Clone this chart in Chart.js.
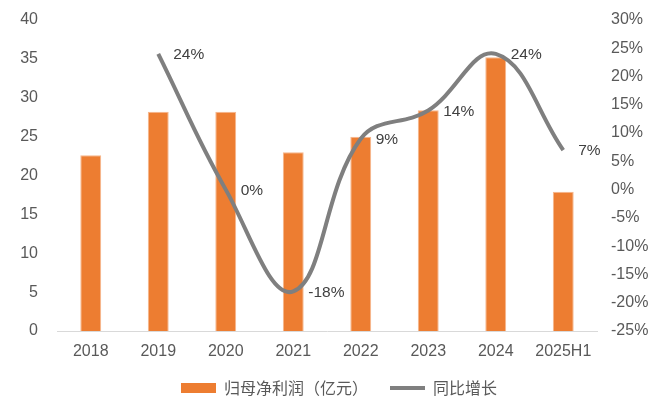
<!DOCTYPE html>
<html>
<head>
<meta charset="utf-8">
<script src="https://cdn.jsdelivr.net/npm/chart.js@4.4.1/dist/chart.umd.min.js"></script>
<style>
  html, body { margin: 0; padding: 0; background: #fff; }
  #wrap { width: 651px; height: 398px; position: relative; }
</style>
</head>
<body>
<div id="wrap"><canvas id="profitChart"></canvas></div>
<script>
// 年份与数据
const years = ['2018', '2019', '2020', '2021', '2022', '2023', '2024', '2025H1'];
const netProfit = [22.6, 28.2, 28.2, 23.0, 25.0, 28.4, 35.2, 17.9];   // 亿元
const yoyGrowth = [null, 24, 0, -18, 9, 14, 24, 7];                   // %
const leftTicks = [0, 40, 5];
const rightTicks = [-25, 30, 5];

const colors = {
  bar: '#ed7d31',
  barEdge: '#f6b78d',
  line: '#7f7f7f',
  tick: '#595959',
  label: '#404040',
  axis: '#d9d9d9',
};

const latin = '"Liberation Sans", Arial, sans-serif';
const cjk = '"Noto Sans CJK SC", "Liberation Sans", sans-serif';

// 折线数据标签：画在点的右侧
const lineLabels = {
  id: 'lineLabels',
  afterDatasetsDraw(chart) {
    const meta = chart.getDatasetMeta(1);
    const ctx = chart.ctx;
    ctx.save();
    ctx.font = '15.5px ' + latin;
    ctx.fillStyle = colors.label;
    ctx.textAlign = 'left';
    ctx.textBaseline = 'middle';
    meta.data.forEach((pt, i) => {
      const v = yoyGrowth[i];
      if (v === null) return;
      ctx.fillText(v + '%', pt.x + 15, pt.y + 1);
    });
    ctx.restore();
  }
};

// 图例位置微调：贴近横轴，略向右（下边界保持在画布底部，避免被裁切）
const legendNudge = {
  id: 'legendNudge',
  afterLayout(chart) {
    const lg = chart.legend;
    lg.top -= 13;
    lg.bottom = chart.height;
    lg.height = lg.bottom - lg.top;
    lg.left += 13.5; lg.right += 13.5;
  }
};

// 纵轴刻度标签不额外占用上下空间
const noLabelPad = (scale) => { scale.paddingTop = 0; scale.paddingBottom = 0; };

new Chart(document.getElementById('profitChart'), {
  type: 'bar',
  data: {
    labels: years,
    datasets: [
      {
        label: '归母净利润（亿元）',
        data: netProfit,
        backgroundColor: colors.bar,
        borderColor: colors.barEdge,
        borderWidth: 1,
        barPercentage: 0.31,
        categoryPercentage: 1,
        yAxisID: 'y',
        order: 2,
      },
      {
        label: '同比增长',
        type: 'line',
        data: yoyGrowth,
        borderColor: colors.line,
        backgroundColor: colors.line,
        borderWidth: 4,
        pointRadius: 0,
        tension: 0.4,
        yAxisID: 'y1',
        order: 1,
      }
    ]
  },
  options: {
    responsive: true,
    maintainAspectRatio: false,
    animation: false,
    devicePixelRatio: 1,
    layout: { padding: { top: 20, left: 0, right: 0, bottom: 0 } },
    plugins: {
      tooltip: { enabled: false },
      legend: {
        position: 'bottom',
        maxHeight: 27,
        labels: {
          sort: (a, b) => a.datasetIndex - b.datasetIndex,
          usePointStyle: true,
          pointStyleWidth: 35,
          boxHeight: 10,
          padding: 22,
          color: colors.tick,
          font: { family: cjk, size: 16 },
          generateLabels(chart) {
            const items = Chart.defaults.plugins.legend.labels.generateLabels(chart);
            items.forEach(it => {
              if (it.datasetIndex === 0) {
                it.pointStyle = 'rect';
                it.fillStyle = colors.bar;
                it.lineWidth = 0;
                it.strokeStyle = colors.bar;
              } else {
                it.pointStyle = 'line';
                it.strokeStyle = colors.line;
                it.lineWidth = 4;
              }
            });
            return items;
          }
        }
      }
    },
    scales: {
      x: {
        grid: { display: false, drawTicks: false },
        border: { display: true, color: colors.axis, width: 1 },
        ticks: { color: colors.tick, font: { family: latin, size: 16 }, padding: 11, maxRotation: 0 },
        afterFit(scale) { scale.height = 40; },
      },
      y: {
        position: 'left',
        min: leftTicks[0],
        max: leftTicks[1],
        grid: { display: false, drawTicks: false },
        border: { display: false },
        ticks: { stepSize: leftTicks[2], color: colors.tick, font: { family: latin, size: 16 }, padding: 19 },
        afterFit(scale) { scale.width = 57; noLabelPad(scale); },
      },
      y1: {
        position: 'right',
        min: rightTicks[0],
        max: rightTicks[1],
        grid: { display: false, drawTicks: false },
        border: { display: false },
        ticks: {
          stepSize: rightTicks[2],
          color: colors.tick,
          font: { family: latin, size: 16 },
          padding: 14,
          callback: v => v + '%',
        },
        afterFit(scale) { scale.width = 54; noLabelPad(scale); },
      }
    }
  },
  plugins: [lineLabels, legendNudge]
});
</script>
</body>
</html>
